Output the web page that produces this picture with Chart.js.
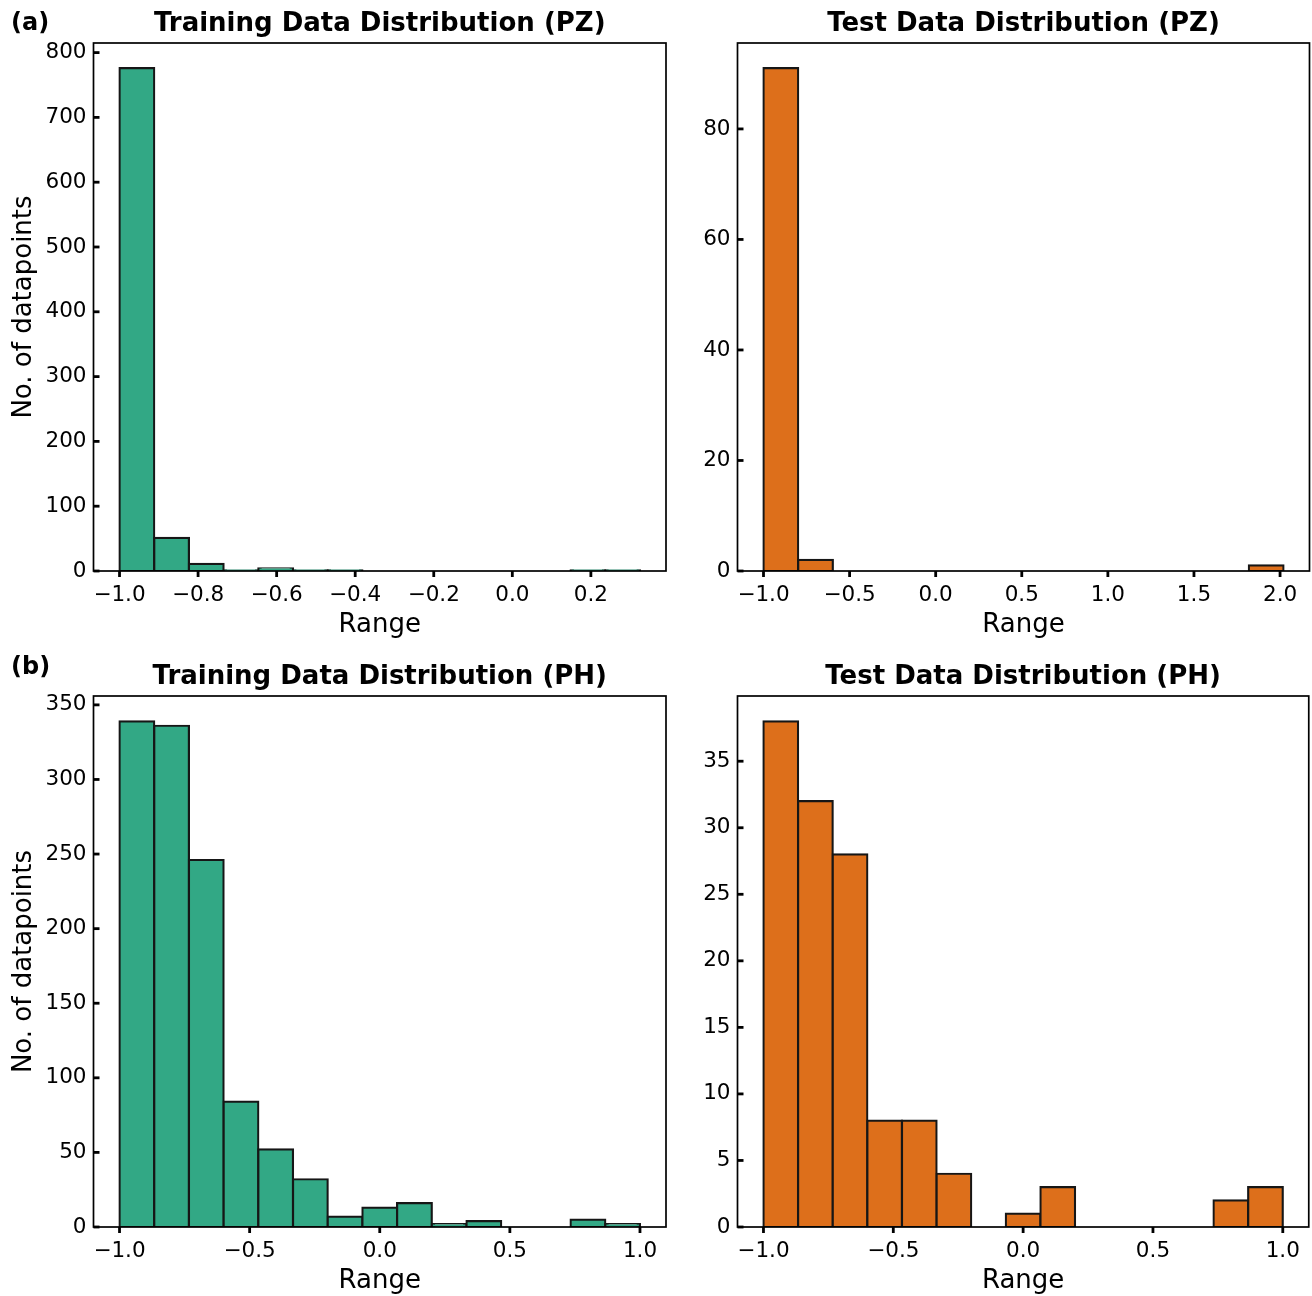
<!DOCTYPE html>
<html>
<head>
<meta charset="utf-8">
<script src="https://cdn.jsdelivr.net/npm/chart.js@4.4.1/dist/chart.umd.min.js"></script>
<style>
  body { margin: 0; background: #fff; }
  #wrap { position: relative; width: 1312px; height: 1296px; }
  canvas { position: absolute; }
</style>
</head>
<body>
<div id="wrap">
  <canvas id="c1" width="680" height="648" style="left:0;top:0"></canvas>
  <canvas id="c2" width="632" height="648" style="left:680px;top:0"></canvas>
  <canvas id="c3" width="680" height="648" style="left:0;top:648px"></canvas>
  <canvas id="c4" width="632" height="648" style="left:680px;top:648px"></canvas>
</div>
<script>
// histogram counts (15 bins each) and the data range they span
const pzTrainCounts = [776, 51, 11, 1, 4, 1, 1, 0, 0, 0, 0, 0, 0, 1, 1];
const pzTrainRange = [-1.0, 0.325];
const pzTestCounts = [91, 2, 0, 0, 0, 0, 0, 0, 0, 0, 0, 0, 0, 0, 1];
const pzTestRange = [-1.0, 2.02];
const phTrainCounts = [339, 336, 246, 84, 52, 32, 7, 13, 16, 2, 4, 0, 0, 5, 2];
const phTrainRange = [-1.0, 1.0];
const phTestCounts = [38, 32, 28, 8, 8, 4, 0, 1, 3, 0, 0, 0, 0, 2, 3];
const phTestRange = [-1.0, 1.0];

// tick labels
const pzTrainXTicks = [-1.0, -0.8, -0.6, -0.4, -0.2, 0.0, 0.2];
const pzTrainYTicks = [0, 100, 200, 300, 400, 500, 600, 700, 800];
const pzTestXTicks = [-1.0, -0.5, 0.0, 0.5, 1.0, 1.5, 2.0];
const pzTestYTicks = [0, 20, 40, 60, 80];
const phXTicks = [-1.0, -0.5, 0.0, 0.5, 1.0];
const phTrainYTicks = [0, 50, 100, 150, 200, 250, 300, 350];
const phTestYTicks = [0, 5, 10, 15, 20, 25, 30, 35];

const FONT = "'DejaVu Sans', sans-serif";
const GREEN = "#32a885";
const ORANGE = "#dd6f1b";
const EDGE = "#161616";

function binCenters(range, n) {
    const w = (range[1] - range[0]) / n;
    return Array.from({ length: n }, (_, i) => range[0] + (i + 0.5) * w);
}

function fmtX(v) {
    const s = Math.abs(v) < 1e-9 ? "0.0" : v.toFixed(1);
    return s.replace("-", "\u2212");
}

// spines, matplotlib style ticks and the texts
const framePlugin = {
    id: "frame",
    afterDraw(chart) {
        const o = chart.options.plugins.frame;
        const a = chart.chartArea;
        const ctx = chart.ctx;
        ctx.save();
        ctx.strokeStyle = "#000";
        ctx.lineWidth = 1.7;
        ctx.strokeRect(a.left, a.top, a.right - a.left, a.bottom - a.top);

        ctx.lineWidth = 2.8;
        const ys = chart.scales.y, xs = chart.scales.x;
        ys.ticks.forEach(t => {
            const y = ys.getPixelForValue(t.value);
            ctx.beginPath(); ctx.moveTo(a.left, y); ctx.lineTo(a.left + 6, y); ctx.stroke();
        });
        xs.ticks.forEach(t => {
            const x = xs.getPixelForValue(t.value);
            ctx.beginPath(); ctx.moveTo(x, a.bottom); ctx.lineTo(x, a.bottom + 6); ctx.stroke();
        });

        ctx.fillStyle = "#000";
        ctx.textAlign = "center";
        ctx.textBaseline = "middle";
        const cx = (a.left + a.right) / 2;
        ctx.font = "bold 26px " + FONT;
        ctx.fillText(o.title, cx, a.top - 19);
        ctx.font = "26px " + FONT;
        ctx.fillText("Range", cx, a.bottom + 54);
        if (o.yTitle) {
            ctx.save();
            ctx.translate(24, (a.top + a.bottom) / 2);
            ctx.rotate(-Math.PI / 2);
            ctx.fillText(o.yTitle, 0, 0);
            ctx.restore();
        }
        if (o.tag) {
            ctx.font = "bold 24px " + FONT;
            ctx.textAlign = "left";
            ctx.fillText(o.tag, 11, o.tagY);
        }
        ctx.restore();
    }
};

function makeHist(id, cfg) {
    const el = document.getElementById(id);
    const W = el.width, H = el.height;
    const centers = binCenters(cfg.range, cfg.counts.length);
    const pts = centers.map((x, i) => ({ x: x, y: cfg.counts[i] }));
    const span = cfg.range[1] - cfg.range[0];
    return new Chart(el, {
        type: "bar",
        data: {
            datasets: [{
                data: pts,
                backgroundColor: cfg.color,
                borderColor: EDGE,
                borderWidth: 2.2,
                borderSkipped: false,
                inflateAmount: 1.1,
                barPercentage: 1,
                categoryPercentage: 1
            }]
        },
        options: {
            responsive: false,
            animation: false,
            devicePixelRatio: 1,
            layout: { padding: { left: 0, top: cfg.area.top, right: W - cfg.area.right, bottom: 0 } },
            plugins: {
                legend: { display: false },
                tooltip: { enabled: false },
                frame: { title: cfg.title, yTitle: cfg.yTitle, tag: cfg.tag, tagY: cfg.tagY }
            },
            scales: {
                x: {
                    type: "linear",
                    offset: false,
                    min: cfg.range[0] - 0.05 * span,
                    max: cfg.range[1] + 0.05 * span,
                    grid: { display: false, drawTicks: false },
                    border: { display: false },
                    afterBuildTicks: s => { s.ticks = cfg.xTicks.map(v => ({ value: v })); },
                    afterFit: s => { s.height = H - cfg.area.bottom; },
                    ticks: {
                        padding: 12, color: "#000", maxRotation: 0, autoSkip: false,
                        font: { family: FONT, size: 21.5 },
                        callback: v => fmtX(v)
                    }
                },
                y: {
                    min: 0,
                    max: Math.max(...cfg.counts) * 1.05,
                    grid: { display: false, drawTicks: false },
                    border: { display: false },
                    afterBuildTicks: s => { s.ticks = cfg.yTicks.map(v => ({ value: v })); },
                    afterFit: s => { s.width = cfg.area.left; },
                    ticks: {
                        padding: 7, color: "#000", autoSkip: false,
                        font: { family: FONT, size: 21.5 },
                        callback: v => String(v)
                    }
                }
            }
        },
        plugins: [framePlugin]
    });
}

makeHist("c1", {
    counts: pzTrainCounts, range: pzTrainRange, xTicks: pzTrainXTicks, yTicks: pzTrainYTicks,
    color: GREEN, title: "Training Data Distribution (PZ)", yTitle: "No. of datapoints",
    tag: "(a)", tagY: 24, area: { left: 93.5, right: 666, top: 43, bottom: 571 }
});
makeHist("c2", {
    counts: pzTestCounts, range: pzTestRange, xTicks: pzTestXTicks, yTicks: pzTestYTicks,
    color: ORANGE, title: "Test Data Distribution (PZ)",
    area: { left: 57.5, right: 629.5, top: 43, bottom: 571 }
});
makeHist("c3", {
    counts: phTrainCounts, range: phTrainRange, xTicks: phXTicks, yTicks: phTrainYTicks,
    color: GREEN, title: "Training Data Distribution (PH)", yTitle: "No. of datapoints",
    tag: "(b)", tagY: 20, area: { left: 93.5, right: 666, top: 48, bottom: 579 }
});
makeHist("c4", {
    counts: phTestCounts, range: phTestRange, xTicks: phXTicks, yTicks: phTestYTicks,
    color: ORANGE, title: "Test Data Distribution (PH)",
    area: { left: 57.5, right: 629.5, top: 48, bottom: 579 }
});
</script>
</body>
</html>
